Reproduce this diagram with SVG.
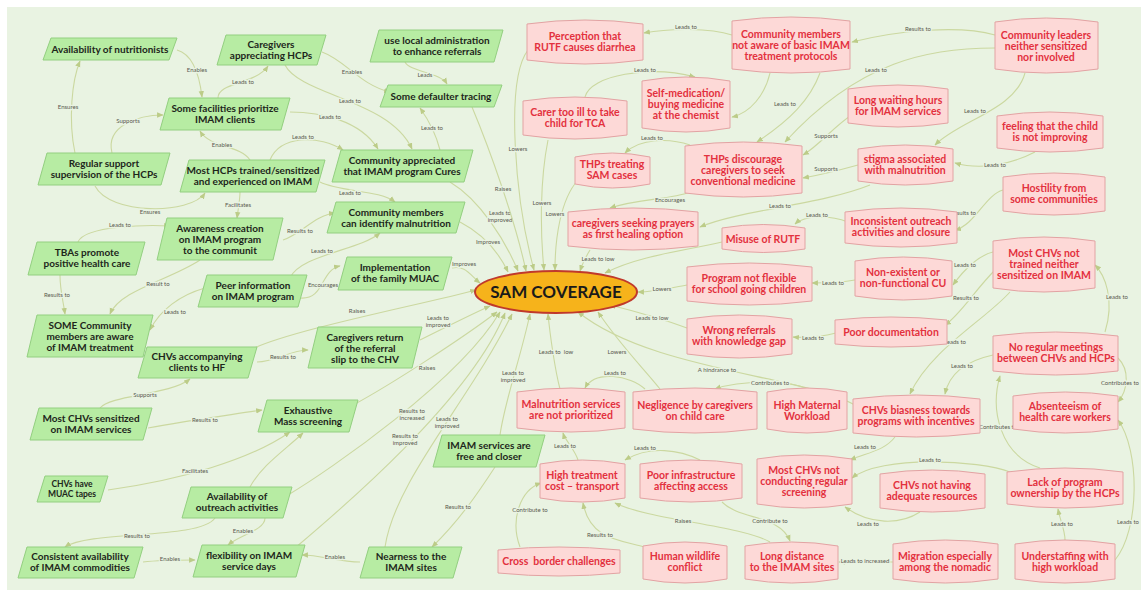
<svg xmlns="http://www.w3.org/2000/svg" width="1141" height="590" viewBox="0 0 1141 590">
<defs>
<style>
.bg{fill:#e9f3e2}
.g{fill:#b7eca3;stroke:#93cf80;stroke-width:1}
.r{fill:#fdd9d7;stroke:#e2a3a3;stroke-width:1;stroke-linejoin:round}
.gt{font-family:Lato,"Liberation Sans",sans-serif;font-weight:700;font-size:10px;fill:#1d261b;text-anchor:middle}
.rt{font-family:Lato,"Liberation Sans",sans-serif;font-weight:700;font-size:10.5px;fill:#e3313e;text-anchor:middle}
.c{fill:none;stroke:#cbd8a0;stroke-width:1.1;marker-end:url(#ah)}
.l{font-family:Lato,"Liberation Sans",sans-serif;font-size:6px;fill:#5a5a50;text-anchor:middle;paint-order:stroke;stroke:#e9f3e2;stroke-width:2.5px}
</style>
<marker id="ah" viewBox="0 0 10 10" refX="9" refY="5" markerWidth="6" markerHeight="6" orient="auto"><path d="M0,1 L10,5 L0,9 z" fill="#bccc88"/></marker>
</defs>
<rect width="1141" height="590" fill="#ffffff"/>
<rect class="bg" x="7" y="7" width="1134" height="583"/>

<g id="connectors">
<path class="c" d="M177,50 C195,55 200,80 202,97"/><text class="l" x="197" y="72">Enables</text>
<path class="c" d="M218,98 C218,82 255,85 268,66"/><text class="l" x="243" y="84">Leads to</text>
<path class="c" d="M322,52 C345,60 360,85 390,92"/><text class="l" x="352" y="74">Enables</text>
<path class="c" d="M405,62 C410,72 440,72 447,84"/><text class="l" x="425" y="77">Leads</text>
<path class="c" d="M285,65 C300,95 390,100 412,149"/><text class="l" x="350" y="103">Leads to</text>
<path class="c" d="M290,112 C320,112 360,120 378,149"/><text class="l" x="330" y="119">Leads to</text>
<path class="c" d="M440,150 C435,130 425,115 420,108"/><text class="l" x="432" y="130">Leads to</text>
<path class="c" d="M112,153 C105,125 140,115 163,115"/><text class="l" x="128" y="123">Supports</text>
<path class="c" d="M75,153 C68,120 72,80 80,61"/><text class="l" x="68" y="109">Ensures</text>
<path class="c" d="M250,160 C240,145 210,148 200,131"/><text class="l" x="222" y="147">Enables</text>
<path class="c" d="M270,160 C280,135 320,135 343,150"/><text class="l" x="303" y="139">Leads to</text>
<path class="c" d="M95,186 C110,215 190,215 205,193"/><text class="l" x="150" y="214">Ensures</text>
<path class="c" d="M240,192 C240,200 238,210 237,218"/><text class="l" x="238" y="207">Facilitates</text>
<path class="c" d="M320,182 C340,192 380,190 395,202"/><text class="l" x="350" y="195">Leads to</text>
<path class="c" d="M78,242 C85,225 150,225 170,226"/><text class="l" x="120" y="227">Leads to</text>
<path class="c" d="M283,240 C300,235 315,215 335,213"/><text class="l" x="300" y="233">Results to</text>
<path class="c" d="M290,278 C300,255 360,250 380,233"/><text class="l" x="322" y="253">Leads to</text>
<path class="c" d="M300,298 C325,300 320,270 340,266"/><text class="l" x="323" y="287">Encourages</text>
<path class="c" d="M200,260 C170,280 120,290 110,314"/><text class="l" x="158" y="286">Result to</text>
<path class="c" d="M60,275 C60,290 63,300 65,314"/><text class="l" x="57" y="297">Results to</text>
<path class="c" d="M205,288 C180,295 160,310 150,330"/><text class="l" x="175" y="314">Leads to</text>
<path class="c" d="M250,350 C290,330 420,305 476,290"/><text class="l" x="357" y="313">Raises</text>
<path class="c" d="M460,222 C485,235 500,255 508,272"/><text class="l" x="488" y="244">Improves</text>
<path class="c" d="M452,268 C465,265 470,275 480,283"/><text class="l" x="464" y="266">Improves</text>
<path class="c" d="M420,340 C440,330 470,315 490,306"/><text class="l" x="438" y="320">Leads to</text><text class="l" x="438" y="327">improved</text>
<path class="c" d="M257,362 C275,362 290,350 308,350"/><text class="l" x="283" y="359">Results to</text>
<path class="c" d="M100,408 C110,395 170,395 190,379"/><text class="l" x="145" y="397">Supports</text>
<path class="c" d="M148,428 C190,420 230,415 262,410"/><text class="l" x="205" y="422">Results to</text>
<path class="c" d="M108,490 C180,480 250,460 290,432"/><text class="l" x="195" y="473">Facilitates</text>
<path class="c" d="M355,404 C390,385 460,340 497,312"/><text class="l" x="427" y="370">Raises</text>
<path class="c" d="M250,487 C262,465 285,450 303,433"/>
<path class="c" d="M265,518 C265,530 240,535 228,545"/><text class="l" x="243" y="533">Enables</text>
<path class="c" d="M215,518 C200,540 90,530 65,547"/><text class="l" x="137" y="538">Results to</text>
<path class="c" d="M143,562 C160,560 180,560 195,560"/><text class="l" x="170" y="561">Enables</text>
<path class="c" d="M360,562 C340,562 320,555 302,555"/><text class="l" x="335" y="559">Enables</text>
<path class="c" d="M495,467 C480,490 460,520 432,547"/><text class="l" x="458" y="509">Results to</text>
<path class="c" d="M288,495 C330,470 460,380 500,312"/><text class="l" x="412" y="413">Results to</text><text class="l" x="412" y="420">increased</text>
<path class="c" d="M295,548 C340,510 470,400 505,313"/><text class="l" x="405" y="438">Results to</text><text class="l" x="405" y="445">improved</text>
<path class="c" d="M385,547 C395,480 470,400 512,314"/><text class="l" x="447" y="421">Leads to</text><text class="l" x="447" y="428">improved</text>
<path class="c" d="M500,435 C505,400 520,360 530,314"/><text class="l" x="513" y="375">Leads to</text><text class="l" x="513" y="382">improved</text>
<path class="c" d="M560,389 C555,370 550,335 548,314"/><text class="l" x="556" y="354" xml:space="preserve">Leads to  low</text>
<path class="c" d="M450,182 C480,200 505,240 518,271"/><text class="l" x="500" y="215">Leads to</text><text class="l" x="500" y="222">improved</text>
<path class="c" d="M472,107 C490,150 515,220 526,271"/><text class="l" x="503" y="191">Raises</text>
<path class="c" d="M528,50 C505,80 515,200 534,270"/><text class="l" x="518" y="151">Lowers</text>
<path class="c" d="M548,140 C540,180 540,230 544,270"/><text class="l" x="542" y="205">Lowers</text>
<path class="c" d="M578,180 C560,200 555,240 555,270"/><text class="l" x="555" y="216">Lowers</text>

<path class="c" d="M732,35 C710,28 670,28 644,33"/><text class="l" x="686" y="29">Leads to</text>
<path class="c" d="M995,35 C960,25 900,30 852,42"/><text class="l" x="918" y="31">Results to</text>
<path class="c" d="M995,48 C930,48 860,60 785,142"/><text class="l" x="876" y="72">Leads to</text>
<path class="c" d="M585,97 C590,75 650,65 695,77"/><text class="l" x="645" y="72">Leads to</text>
<path class="c" d="M770,73 C765,95 750,113 732,117"/>
<path class="c" d="M820,73 C810,100 790,120 757,142"/><text class="l" x="785" y="106">Leads to</text>
<path class="c" d="M690,145 C670,138 640,138 625,153"/><text class="l" x="652" y="140">Leads to</text>
<path class="c" d="M852,115 C835,125 820,145 803,155"/><text class="l" x="826" y="138">Supports</text>
<path class="c" d="M858,165 C840,170 820,175 803,178"/><text class="l" x="826" y="171">Supports</text>
<path class="c" d="M1025,73 C1015,110 960,120 935,145"/><text class="l" x="975" y="113">Leads to</text>
<path class="c" d="M1035,152 C1010,165 980,170 955,163"/><text class="l" x="995" y="167">Leads to</text>
<path class="c" d="M690,192 C670,200 640,198 610,208"/><text class="l" x="670" y="202">Encourages</text>
<path class="c" d="M870,185 C820,205 740,210 700,227"/><text class="l" x="780" y="208">Leads to</text>
<path class="c" d="M848,222 C830,215 805,215 795,224"/><text class="l" x="817" y="217">Leads to</text>
<path class="c" d="M1003,190 C985,195 975,225 955,230"/><text class="l" x="963" y="215">Results to</text>
<path class="c" d="M722,242 C690,250 640,255 605,273"/>
<path class="c" d="M590,250 C585,258 583,262 580,271"/><text class="l" x="598" y="261">Leads to low</text>
<path class="c" d="M687,285 C670,288 655,292 638,292"/><text class="l" x="662" y="291">Lowers</text>
<path class="c" d="M855,280 C840,283 825,283 812,283"/><text class="l" x="833" y="285">Leads to</text>
<path class="c" d="M993,252 C980,255 965,268 953,285"/><text class="l" x="965" y="267">Leads to</text>
<path class="c" d="M995,270 C975,290 960,315 945,325"/><text class="l" x="966" y="300">Results to</text>
<path class="c" d="M687,328 C660,318 630,310 610,305"/><text class="l" x="652" y="320">Leads to low</text>
<path class="c" d="M836,333 C820,337 805,338 793,337"/><text class="l" x="813" y="340">Leads to</text>
<path class="c" d="M1010,292 C985,320 930,350 910,394"/><text class="l" x="955" y="344">Leads to</text>
<path class="c" d="M1105,332 C1115,300 1105,275 1095,265"/><text class="l" x="1117" y="299">Leads to</text>
<path class="c" d="M993,355 C970,360 950,370 945,394"/><text class="l" x="962" y="368">Leads to</text>
<path class="c" d="M1118,358 C1130,370 1128,390 1118,402"/><text class="l" x="1139" y="385" style="text-anchor:end">Contributes to</text>
<path class="c" d="M855,405 C800,375 650,370 578,312"/><text class="l" x="717" y="372">A hindrance to</text>
<path class="c" d="M807,389 C790,380 740,380 715,389"/><text class="l" x="770" y="385">Contributes to</text>
<path class="c" d="M660,389 C645,370 620,345 598,312"/><text class="l" x="617" y="354">Lowers</text>
<path class="c" d="M645,389 C630,375 595,370 585,388"/><text class="l" x="615" y="375">Leads to</text>
<path class="c" d="M1040,468 C1000,455 990,410 1000,376"/><text class="l" x="998" y="429">Contributes to</text>
<path class="c" d="M895,437 C885,450 870,452 850,460"/><text class="l" x="865" y="449">Leads to</text>
<path class="c" d="M1010,472 C980,460 880,455 852,478"/><text class="l" x="930" y="462">Leads to</text>
<path class="c" d="M920,512 C900,525 870,525 845,507"/><text class="l" x="868" y="526">Leads to</text>
<path class="c" d="M1065,540 C1065,530 1060,520 1058,509"/><text class="l" x="1062" y="526">Leads to</text>
<path class="c" d="M1115,560 C1140,530 1140,450 1118,420"/><text class="l" x="1139" y="524" style="text-anchor:end">Leads to</text>
<path class="c" d="M578,460 C575,450 565,440 563,433"/><text class="l" x="565" y="448">Leads to</text>
<path class="c" d="M700,460 C680,450 650,445 625,460"/><text class="l" x="645" y="450">Leads to</text>
<path class="c" d="M520,547 C510,520 520,490 541,483"/><text class="l" x="530" y="512">Contribute to</text>
<path class="c" d="M645,547 C620,540 590,540 583,503"/><text class="l" x="600" y="537">Results to</text>
<path class="c" d="M770,542 C740,525 650,520 615,503"/><text class="l" x="683" y="523">Raises</text>
<path class="c" d="M722,502 C740,520 780,515 790,541"/><text class="l" x="770" y="523">Contribute to</text>
<path class="c" d="M893,562 C870,562 855,562 839,562"/><text class="l" x="865" y="563">Leads to increased</text>
</g>

<!-- central outcome -->
<g id="sam">
<ellipse cx="556" cy="292" rx="81" ry="21" fill="#f6b31b" stroke="#c0392b" stroke-width="2"/>
<text x="556" y="298" style="font-family:Lato,'Liberation Sans',sans-serif;font-weight:700;font-size:17px;fill:#1a1a1a;text-anchor:middle">SAM COVERAGE</text>
</g>

<!-- enabling factors -->
<g id="g-nutri"><path class="g" d="M51,38 L177,38 L169,60 L43,60 Z"/><text class="gt" x="110" y="52.5">Availability of nutritionists</text></g>
<g id="g-carehcp"><path class="g" d="M226,35 L326,35 L317,65 L217,65 Z"/><text class="gt" x="271" y="48">Caregivers</text><text class="gt" x="271" y="59">appreciating HCPs</text></g>
<g id="g-local"><path class="g" d="M379,30 L503,30 L494,62 L370,62 Z"/><text class="gt" x="437" y="44">use local administration</text><text class="gt" x="437" y="55">to enhance referrals</text></g>
<g id="g-defaulter"><path class="g" d="M388,85 L502,85 L494,107 L380,107 Z"/><text class="gt" x="441" y="99.5">Some defaulter tracing</text></g>
<g id="g-facilities"><path class="g" d="M169,98 L290,98 L281,130 L160,130 Z"/><text class="gt" x="225" y="112">Some facilities prioritize</text><text class="gt" x="225" y="123">IMAM clients</text></g>
<g id="g-regular"><path class="g" d="M47,153 L170,153 L161,185 L38,185 Z"/><text class="gt" x="104" y="167">Regular support</text><text class="gt" x="104" y="178">supervision of the HCPs</text></g>
<g id="g-mosthcp"><path class="g" d="M189,160 L325,160 L316,192 L180,192 Z"/><text class="gt" x="253" y="174">Most HCPs trained/sensitized</text><text class="gt" x="253" y="185">and experienced on IMAM</text></g>
<g id="g-commapp"><path class="g" d="M341,150 L473,150 L464,182 L332,182 Z"/><text class="gt" x="402" y="164">Community appreciated</text><text class="gt" x="402" y="175">that IMAM program Cures</text></g>
<g id="g-commident"><path class="g" d="M336,202 L465,202 L456,233 L327,233 Z"/><text class="gt" x="396" y="215.5">Community members</text><text class="gt" x="396" y="226.5">can identify malnutrition</text></g>
<g id="g-awareness"><path class="g" d="M167,218 L283,218 L273,260 L157,260 Z"/><text class="gt" x="220" y="231.5">Awareness creation</text><text class="gt" x="220" y="242.5">on IMAM program</text><text class="gt" x="220" y="253.5">to the communit</text></g>
<g id="g-tba"><path class="g" d="M37,242 L145,242 L136,275 L28,275 Z"/><text class="gt" x="87" y="256">TBAs promote</text><text class="gt" x="87" y="267">positive health care</text></g>
<g id="g-peer"><path class="g" d="M207,275 L307,275 L298,307 L198,307 Z"/><text class="gt" x="253" y="289">Peer information</text><text class="gt" x="253" y="300">on IMAM program</text></g>
<g id="g-impl"><path class="g" d="M347,257 L452,257 L443,290 L338,290 Z"/><text class="gt" x="395" y="271">Implementation</text><text class="gt" x="395" y="282">of the family MUAC</text></g>
<g id="g-some"><path class="g" d="M37,315 L153,315 L143,357 L27,357 Z"/><text class="gt" x="90" y="328.5">SOME Community</text><text class="gt" x="90" y="339.5">members are aware</text><text class="gt" x="90" y="350.5">of IMAM treatment</text></g>
<g id="g-chvacc"><path class="g" d="M147,347 L257,347 L248,378 L138,378 Z"/><text class="gt" x="197" y="360">CHVs accompanying</text><text class="gt" x="197" y="371">clients to HF</text></g>
<g id="g-carereturn"><path class="g" d="M318,327 L422,327 L412,368 L308,368 Z"/><text class="gt" x="365" y="340.5">Caregivers return</text><text class="gt" x="365" y="351.5">of the referral</text><text class="gt" x="365" y="362.5">slip to the CHV</text></g>
<g id="g-mostchvsens"><path class="g" d="M39,408 L152,408 L143,440 L30,440 Z"/><text class="gt" x="91" y="422">Most CHVs sensitized</text><text class="gt" x="91" y="433">on IMAM services</text></g>
<g id="g-exhaustive"><path class="g" d="M267,400 L358,400 L349,432 L258,432 Z"/><text class="gt" x="308" y="414">Exhaustive</text><text class="gt" x="308" y="425">Mass screening</text></g>
<g id="g-muac"><path class="g" d="M45,476 L108,476 L100,502 L37,502 Z"/><text class="gt" x="72" y="487" style="font-size:8.5px">CHVs have</text><text class="gt" x="72" y="497" style="font-size:8.5px">MUAC tapes</text></g>
<g id="g-outreach"><path class="g" d="M191,487 L292,487 L283,518 L182,518 Z"/><text class="gt" x="237" y="500">Availability of</text><text class="gt" x="237" y="511">outreach activities</text></g>
<g id="g-consistent"><path class="g" d="M27,547 L143,547 L134,578 L18,578 Z"/><text class="gt" x="80" y="560">Consistent availability</text><text class="gt" x="80" y="571">of IMAM commodities</text></g>
<g id="g-flex"><path class="g" d="M202,545 L305,545 L296,577 L193,577 Z"/><text class="gt" x="249" y="559">flexibility on IMAM</text><text class="gt" x="249" y="570">service days</text></g>
<g id="g-nearness"><path class="g" d="M369,547 L462,547 L453,578 L360,578 Z"/><text class="gt" x="411" y="560">Nearness to the</text><text class="gt" x="411" y="571">IMAM sites</text></g>
<g id="g-free"><path class="g" d="M442,435 L545,435 L536,467 L433,467 Z"/><text class="gt" x="489" y="449">IMAM services are</text><text class="gt" x="489" y="460">free and closer</text></g>

<!-- barriers -->
<g id="r-perception"><path class="r" d="M527,24 Q585,16 643,24 L643,60 Q585,68 527,60 Z"/><text class="rt" x="585" y="40">Perception that</text><text class="rt" x="585" y="51">RUTF causes diarrhea</text></g>
<g id="r-commnotaware"><path class="r" d="M732,21 Q791,13 850,21 L850,69 Q791,77 732,69 Z"/><text class="rt" x="791" y="37.5">Community members</text><text class="rt" x="791" y="48.5">not aware of basic IMAM</text><text class="rt" x="791" y="59.5">treatment protocols</text></g>
<g id="r-leaders"><path class="r" d="M995,22 Q1046,14 1098,22 L1098,69 Q1046,77 995,69 Z"/><text class="rt" x="1046" y="38.5">Community leaders</text><text class="rt" x="1046" y="49.5">neither sensitized</text><text class="rt" x="1046" y="60.5">nor involved</text></g>
<g id="r-selfmed"><path class="r" d="M642,81 Q686,73 730,81 L730,128 Q686,136 642,128 Z"/><text class="rt" x="686" y="96.5">Self-medication/</text><text class="rt" x="686" y="107.5">buying medicine</text><text class="rt" x="686" y="118.5">at the chemist</text></g>
<g id="r-carer"><path class="r" d="M523,101 Q575,93 627,101 L627,135 Q575,143 523,135 Z"/><text class="rt" x="575" y="116">Carer too ill to take</text><text class="rt" x="575" y="127">child for TCA</text></g>
<g id="r-longwait"><path class="r" d="M848,89 Q898,81 948,89 L948,123 Q898,131 848,123 Z"/><text class="rt" x="898" y="104">Long waiting hours</text><text class="rt" x="898" y="115">for IMAM services</text></g>
<g id="r-feeling"><path class="r" d="M997,116 Q1050,108 1103,116 L1103,148 Q1050,156 997,148 Z"/><text class="rt" x="1050" y="130">feeling that the child</text><text class="rt" x="1050" y="141">is not improving</text></g>
<g id="r-thpstreat"><path class="r" d="M575,157 Q612,149 650,157 L650,184 Q612,192 575,184 Z"/><text class="rt" x="612" y="168">THPs treating</text><text class="rt" x="612" y="179">SAM cases</text></g>
<g id="r-thpsdisc"><path class="r" d="M685,146 Q743,138 802,146 L802,193 Q743,201 685,193 Z"/><text class="rt" x="743" y="162.5">THPs discourage</text><text class="rt" x="743" y="173.5">caregivers to seek</text><text class="rt" x="743" y="184.5">conventional medicine</text></g>
<g id="r-stigma"><path class="r" d="M858,149 Q905,141 953,149 L953,181 Q905,189 858,181 Z"/><text class="rt" x="905" y="163">stigma associated</text><text class="rt" x="905" y="174">with malnutrition</text></g>
<g id="r-hostility"><path class="r" d="M1003,177 Q1054,169 1105,177 L1105,211 Q1054,219 1003,211 Z"/><text class="rt" x="1054" y="192">Hostility from</text><text class="rt" x="1054" y="203">some communities</text></g>
<g id="r-prayers"><path class="r" d="M568,212 Q633,204 698,212 L698,246 Q633,254 568,246 Z"/><text class="rt" x="633" y="227">caregivers seeking prayers</text><text class="rt" x="633" y="238">as first healing option</text></g>
<g id="r-misuse"><path class="r" d="M722,228 Q763,221 805,228 L805,249 Q763,256 722,249 Z"/><text class="rt" x="763" y="242.5">Misuse of RUTF</text></g>
<g id="r-inconsistent"><path class="r" d="M845,212 Q901,204 957,212 L957,243 Q901,251 845,243 Z"/><text class="rt" x="901" y="225">Inconsistent outreach</text><text class="rt" x="901" y="236">activities and closure</text></g>
<g id="r-chvtrain"><path class="r" d="M993,241 Q1044,233 1095,241 L1095,288 Q1044,296 993,288 Z"/><text class="rt" x="1044" y="256.5">Most CHVs not</text><text class="rt" x="1044" y="267.5">trained neither</text><text class="rt" x="1044" y="278.5">sensitized on IMAM</text></g>
<g id="r-program"><path class="r" d="M687,267 Q749,259 812,267 L812,301 Q749,309 687,301 Z"/><text class="rt" x="749" y="282">Program not flexible</text><text class="rt" x="749" y="293">for school going children</text></g>
<g id="r-nonexist"><path class="r" d="M855,261 Q903,253 952,261 L952,296 Q903,304 855,296 Z"/><text class="rt" x="903" y="276">Non-existent or</text><text class="rt" x="903" y="287">non-functional CU</text></g>
<g id="r-wrongref"><path class="r" d="M687,319 Q739,311 792,319 L792,354 Q739,362 687,354 Z"/><text class="rt" x="739" y="334">Wrong referrals</text><text class="rt" x="739" y="345">with knowledge gap</text></g>
<g id="r-poordoc"><path class="r" d="M835,320 Q891,314 947,320 L947,344 Q891,350 835,344 Z"/><text class="rt" x="891" y="335.5">Poor documentation</text></g>
<g id="r-nomeet"><path class="r" d="M993,336 Q1056,328 1118,336 L1118,371 Q1056,379 993,371 Z"/><text class="rt" x="1056" y="351">No regular meetings</text><text class="rt" x="1056" y="362">between CHVs and HCPs</text></g>
<g id="r-malnut"><path class="r" d="M517,392 Q571,384 625,392 L625,428 Q571,436 517,428 Z"/><text class="rt" x="571" y="408">Malnutrition services</text><text class="rt" x="571" y="419">are not prioritized</text></g>
<g id="r-negligence"><path class="r" d="M633,392 Q695,384 757,392 L757,429 Q695,437 633,429 Z"/><text class="rt" x="695" y="409">Negligence by caregivers</text><text class="rt" x="695" y="420">on child care</text></g>
<g id="r-maternal"><path class="r" d="M767,392 Q807,384 847,392 L847,429 Q807,437 767,429 Z"/><text class="rt" x="807" y="409">High Maternal</text><text class="rt" x="807" y="420">Workload</text></g>
<g id="r-biasness"><path class="r" d="M853,399 Q916,391 980,399 L980,433 Q916,441 853,433 Z"/><text class="rt" x="916" y="414">CHVs biasness towards</text><text class="rt" x="916" y="425">programs with incentives</text></g>
<g id="r-absenteeism"><path class="r" d="M1013,396 Q1065,388 1118,396 L1118,429 Q1065,437 1013,429 Z"/><text class="rt" x="1065" y="410">Absenteeism of</text><text class="rt" x="1065" y="421">health care workers</text></g>
<g id="r-highcost"><path class="r" d="M540,464 Q582,456 625,464 L625,498 Q582,506 540,498 Z"/><text class="rt" x="582" y="479">High treatment</text><text class="rt" x="582" y="490">cost – transport</text></g>
<g id="r-poorinfra"><path class="r" d="M640,464 Q691,456 742,464 L742,498 Q691,506 640,498 Z"/><text class="rt" x="691" y="479">Poor infrastructure</text><text class="rt" x="691" y="490">affecting access</text></g>
<g id="r-chvscreen"><path class="r" d="M757,459 Q804,451 852,459 L852,504 Q804,512 757,504 Z"/><text class="rt" x="804" y="473.5">Most CHVs not</text><text class="rt" x="804" y="484.5">conducting regular</text><text class="rt" x="804" y="495.5">screening</text></g>
<g id="r-resources"><path class="r" d="M880,474 Q932,466 985,474 L985,508 Q932,516 880,508 Z"/><text class="rt" x="932" y="489">CHVs not having</text><text class="rt" x="932" y="500">adequate resources</text></g>
<g id="r-lack"><path class="r" d="M1007,472 Q1065,464 1123,472 L1123,504 Q1065,512 1007,504 Z"/><text class="rt" x="1065" y="486">Lack of program</text><text class="rt" x="1065" y="497">ownership by the HCPs</text></g>
<g id="r-crossborder"><path class="r" d="M498,550 Q559,544 620,550 L620,573 Q559,579 498,573 Z"/><text class="rt" x="559" y="565" xml:space="preserve">Cross  border challenges</text></g>
<g id="r-wildlife"><path class="r" d="M643,546 Q685,538 727,546 L727,579 Q685,587 643,579 Z"/><text class="rt" x="685" y="560">Human wildlife</text><text class="rt" x="685" y="571">conflict</text></g>
<g id="r-longdist"><path class="r" d="M745,546 Q792,538 838,546 L838,579 Q792,587 745,579 Z"/><text class="rt" x="792" y="560">Long distance</text><text class="rt" x="792" y="571">to the IMAM sites</text></g>
<g id="r-migration"><path class="r" d="M893,544 Q945,536 998,544 L998,579 Q945,587 893,579 Z"/><text class="rt" x="945" y="560">Migration especially</text><text class="rt" x="945" y="571">among the nomadic</text></g>
<g id="r-understaffing"><path class="r" d="M1015,544 Q1065,536 1115,544 L1115,579 Q1065,587 1015,579 Z"/><text class="rt" x="1065" y="560">Understaffing with</text><text class="rt" x="1065" y="571">high workload</text></g>
</svg>
